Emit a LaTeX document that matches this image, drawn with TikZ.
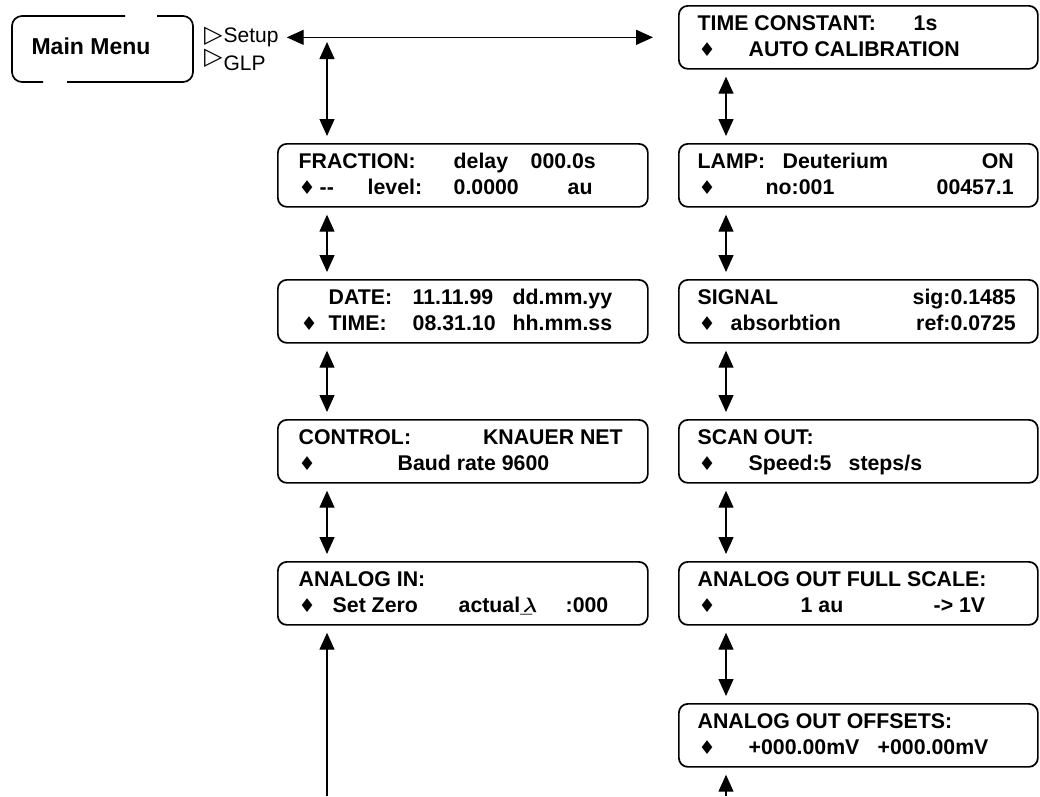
\documentclass[tikz,border=0pt]{standalone}
\usepackage{fontspec}
\setmainfont{Liberation Sans}
\newfontfamily\djv{DejaVu Sans}
\usetikzlibrary{arrows.meta}
\newcommand\at[2]{\makebox[0pt][l]{\hspace{#1pt}#2}}
\newcommand\atr[2]{\makebox[0pt][l]{\hspace{#1pt}\llap{#2}}}
\newcommand\dm{{\djv\fontsize{19}{19}\selectfont ♦}}
\newcommand\tri{{\djv\fontsize{24}{24}\selectfont ▷}}
\begin{document}
\begin{tikzpicture}[x=1pt,y=-1pt,
  lcdL/.style={draw, line width=1.7pt, rounded corners=9pt, minimum width=370pt, minimum height=63pt, inner sep=0pt, anchor=north west},
  lcdR/.style={draw, line width=1.7pt, rounded corners=9pt, minimum width=359pt, minimum height=63pt, inner sep=0pt, anchor=north west},
  row/.style={inner sep=0pt, anchor=base west, font=\bfseries\fontsize{21.3}{24}\selectfont},
  plain/.style={inner sep=0pt, anchor=base west, font=\fontsize{21}{24}\selectfont},
  dbl/.style={{Triangle[length=17pt,width=15pt]}-{Triangle[length=17pt,width=15pt]}, line width=1.3pt, shorten <=7pt, shorten >=7pt},
  sgl/.style={-{Triangle[length=17pt,width=15pt]}, line width=1.3pt, shorten >=7pt}
]
\useasboundingbox (0,0) rectangle (1040,796);

% Main menu
\draw[line width=1.7pt, rounded corners=10pt] (157,16) -- (193,16) -- (193,82) -- (67,82);
\draw[line width=1.7pt, rounded corners=10pt] (43,82) -- (12,82) -- (12,16) -- (125,16);
\node[font=\bfseries\fontsize{23}{26}\selectfont, inner sep=0pt] (mm) at (91,46) {Main Menu};

\node[plain] (setup) at (204,42) {\tri\kern1pt Setup};
\node[plain] (glp) at (204,64) {\tri\kern1pt\raisebox{-6pt}{GLP}};

% left column
\node[lcdL] (frac) at (277,143) {};
\node[lcdL] (date) at (277,279) {};
\node[lcdL] (ctrl) at (277,419) {};
\node[lcdL] (ain)  at (277,561) {};
% right column
\node[lcdR] (tc)   at (678,5) {};
\node[lcdR] (lamp) at (678,143) {};
\node[lcdR] (sig)  at (678,279) {};
\node[lcdR] (scan) at (678,419) {};
\node[lcdR] (afs)  at (678,561) {};
\node[lcdR] (aoff) at (678,703) {};

% texts
\node[row] (frac1) at ([yshift=-25pt]frac.north west) {\at{21}{FRACTION:}\at{176}{delay}\at{253}{000.0s}};
\node[row] (frac2) at ([yshift=-51pt]frac.north west) {\at{21}{\dm}\at{42}{-{}-}\at{90}{level:}\at{176}{0.0000}\at{290}{au}};
\node[row] (date1) at ([yshift=-25pt]date.north west) {\at{51}{DATE:}\at{135}{11.11.99}\at{235}{dd.mm.yy}};
\node[row] (date2) at ([yshift=-51pt]date.north west) {\at{23}{\dm}\at{51}{TIME:}\at{135}{08.31.10}\at{235}{hh.mm.ss}};
\node[row] (ctrl1) at ([yshift=-25pt]ctrl.north west) {\at{21}{CONTROL:}\atr{345}{KNAUER NET}};
\node[row] (ctrl2) at ([yshift=-51pt]ctrl.north west) {\at{21}{\dm}\at{120}{Baud rate 9600}};
\node[row] (ain1) at ([yshift=-25pt]ain.north west) {\at{21}{ANALOG IN:}};
\node[row] (ain2) at ([yshift=-51pt]ain.north west) {\at{21}{\dm}\at{55}{Set Zero}\at{181}{actual\_\kern-9pt{\boldmath$\lambda$}}\at{288}{:000}};

\node[row] (tc1) at ([yshift=-25pt]tc.north west) {\at{19}{TIME CONSTANT:}\at{235}{1s}};
\node[row] (tc2) at ([yshift=-51pt]tc.north west) {\at{20}{\dm}\at{70}{AUTO CALIBRATION}};
\node[row] (lamp1) at ([yshift=-25pt]lamp.north west) {\at{19}{LAMP:}\at{104}{Deuterium}\atr{335}{ON}};
\node[row] (lamp2) at ([yshift=-51pt]lamp.north west) {\at{20}{\dm}\at{87}{no:001}\atr{335}{00457.1}};
\node[row] (sig1) at ([yshift=-25pt]sig.north west) {\at{19}{SIGNAL}\atr{337}{sig:0.1485}};
\node[row] (sig2) at ([yshift=-51pt]sig.north west) {\at{20}{\dm}\at{52}{absorbtion}\atr{337}{ref:0.0725}};
\node[row] (scan1) at ([yshift=-25pt]scan.north west) {\at{19}{SCAN OUT:}};
\node[row] (scan2) at ([yshift=-51pt]scan.north west) {\at{20}{\dm}\at{70}{Speed:5}\at{170}{steps/s}};
\node[row] (afs1) at ([yshift=-25pt]afs.north west) {\at{19}{ANALOG OUT FULL SCALE:}};
\node[row] (afs2) at ([yshift=-51pt]afs.north west) {\at{20}{\dm}\at{122}{1 au}\at{255}{-> 1V}};
\node[row] (aoff1) at ([yshift=-25pt]aoff.north west) {\at{19}{ANALOG OUT OFFSETS:}};
\node[row] (aoff2) at ([yshift=-51pt]aoff.north west) {\at{20}{\dm}\at{70}{+000.00mV}\at{199}{+000.00mV}};

% connectors
\draw[dbl, shorten <=8pt, shorten >=25pt] (setup.east |- tc.west) -- (tc.west);
\coordinate (jl) at (327,37);
\draw[dbl, shorten <=5pt] (jl) -- ([xshift=50pt]frac.north west);
\draw[dbl] ([xshift=50pt]frac.south west) -- ([xshift=50pt]date.north west);
\draw[dbl] ([xshift=50pt]date.south west) -- ([xshift=50pt]ctrl.north west);
\draw[dbl] ([xshift=50pt]ctrl.south west) -- ([xshift=50pt]ain.north west);
\coordinate (bl) at (327,796);
\draw[sgl] (bl) -- ([xshift=50pt]ain.south west);

\draw[dbl] ([xshift=48pt]tc.south west) -- ([xshift=48pt]lamp.north west);
\draw[dbl] ([xshift=48pt]lamp.south west) -- ([xshift=48pt]sig.north west);
\draw[dbl] ([xshift=48pt]sig.south west) -- ([xshift=48pt]scan.north west);
\draw[dbl] ([xshift=48pt]scan.south west) -- ([xshift=48pt]afs.north west);
\draw[dbl] ([xshift=48pt]afs.south west) -- ([xshift=48pt]aoff.north west);
\coordinate (br) at (726,796);
\draw[sgl] (br) -- ([xshift=48pt]aoff.south west);
\end{tikzpicture}
\end{document}
